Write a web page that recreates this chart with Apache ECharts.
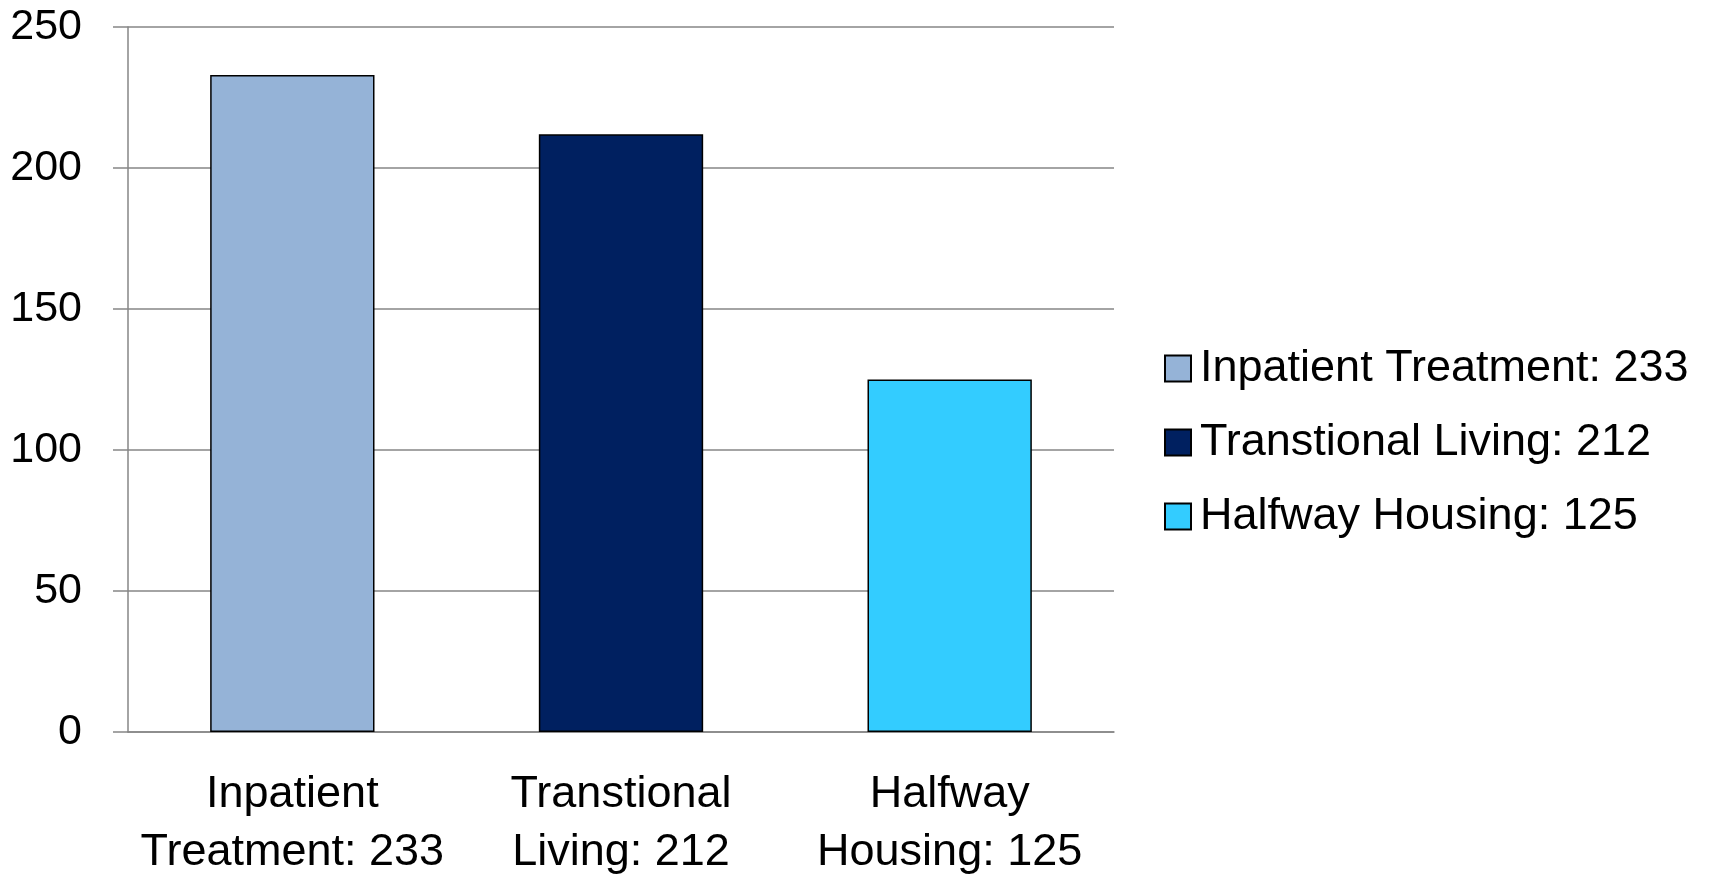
<!DOCTYPE html>
<html>
<head>
<meta charset="utf-8">
<script src="https://cdn.jsdelivr.net/npm/echarts@6/dist/echarts.min.js"></script>
<style>
  html, body { margin: 0; padding: 0; background: #fff; }
  #chart { width: 1713px; height: 876px; }
</style>
</head>
<body>
<div id="chart"></div>
<script>
// categories and values
var categories = ['Inpatient Treatment: 233', 'Transtional Living: 212', 'Halfway Housing: 125'];
var axisLabels = ['Inpatient\nTreatment: 233', 'Transtional\nLiving: 212', 'Halfway\nHousing: 125'];
var values = [233, 212, 125];
var colors = ['#95B3D7', '#002060', '#33CCFF'];
var yTicks = [0, 50, 100, 150, 200, 250];

var font = 'Liberation Sans, Arial, sans-serif';

var myChart = echarts.init(document.getElementById('chart'));

// one series per bar so each gets a legend entry
var series = categories.map(function (name, i) {
    return {
        name: name,
        type: 'bar',
        stack: 'all',
        barWidth: '50%',
        itemStyle: { color: colors[i], borderColor: '#000', borderWidth: 1.5 },
        data: values.map(function (v, j) { return j === i ? v : '-'; })
    };
});

var option = {
    animation: false,
    textStyle: { fontFamily: font },
    grid: { left: 128, right: 599, top: 27, bottom: 144, outerBoundsMode: 'none' },
    legend: {
        orient: 'vertical',
        left: 1159,
        top: 341,
        itemWidth: 26,
        itemHeight: 26,
        itemGap: 29,
        icon: 'rect',
        data: categories,
        textStyle: { fontFamily: font, fontSize: 45, color: '#000', padding: [0, 0, 0, 4] }
    },
    xAxis: {
        type: 'category',
        data: axisLabels,
        axisLine: { lineStyle: { color: '#868686', width: 1.5 } },
        axisTick: { length: 15, lineStyle: { color: '#868686', width: 1.5 } },
        axisLabel: { fontFamily: font, fontSize: 45, color: '#000', lineHeight: 58, margin: 34, interval: 0 }
    },
    yAxis: {
        type: 'value',
        min: yTicks[0],
        max: yTicks[yTicks.length - 1],
        interval: 50,
        axisLine: { show: true, lineStyle: { color: '#868686', width: 1.5 } },
        axisTick: { show: true, length: 15, lineStyle: { color: '#868686', width: 1.5 } },
        splitLine: { lineStyle: { color: '#868686', width: 1.5 } },
        axisLabel: { fontFamily: font, fontSize: 43, color: '#000', margin: 46 }
    },
    series: series
};
option && myChart.setOption(option);
</script>
</body>
</html>
